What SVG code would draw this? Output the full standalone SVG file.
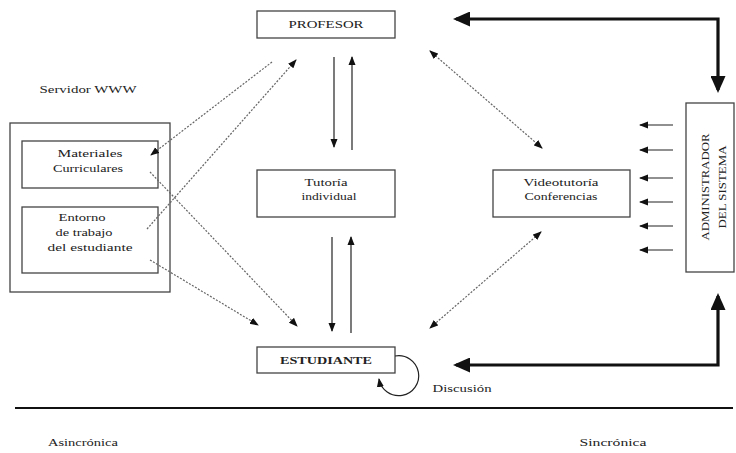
<svg xmlns="http://www.w3.org/2000/svg" width="736" height="453" viewBox="0 0 736 453">
<defs>
<style>
.box{fill:none;stroke:#444;stroke-width:1.3}
.t{font-family:"Liberation Serif","Times New Roman",serif;font-size:10px;fill:#222;text-anchor:middle}
.b{font-weight:bold}
.thin{fill:none;stroke:#222;stroke-width:1.2}
.dot{fill:none;stroke:#666;stroke-width:1.2;stroke-dasharray:2,1.5}
.thick{fill:none;stroke:#111;stroke-width:3.2}
</style>
<marker id="a" markerUnits="userSpaceOnUse" markerWidth="9" markerHeight="8" refX="8" refY="4" orient="auto-start-reverse"><path d="M0,0.5 L9,4 L0,7.5 z" fill="#111"/></marker>
<marker id="A" markerUnits="userSpaceOnUse" markerWidth="17" markerHeight="15" refX="14" refY="7.5" orient="auto-start-reverse"><path d="M0,0 L17,7.5 L0,15 z" fill="#111"/></marker>
</defs>
<rect width="736" height="453" fill="#fff"/>

<g id="servidor">
<rect class="box" x="10" y="123" width="160" height="169"/>
<text class="t" x="88" y="93" textLength="97" lengthAdjust="spacingAndGlyphs">Servidor WWW</text>
</g>
<g id="materiales">
<rect class="box" x="22" y="141" width="136" height="47"/>
<text class="t" x="90" y="157" textLength="65" lengthAdjust="spacingAndGlyphs">Materiales</text>
<text class="t" x="88" y="172" textLength="70" lengthAdjust="spacingAndGlyphs">Curriculares</text>
</g>
<g id="entorno">
<rect class="box" x="22" y="207" width="136" height="66"/>
<text class="t" x="82" y="221" textLength="47" lengthAdjust="spacingAndGlyphs">Entorno</text>
<text class="t" x="84" y="236" textLength="57" lengthAdjust="spacingAndGlyphs">de trabajo</text>
<text class="t" x="90" y="251" textLength="85" lengthAdjust="spacingAndGlyphs">del estudiante</text>
</g>
<g id="profesor">
<rect class="box" x="257" y="11" width="138" height="27"/>
<text class="t" x="326" y="28" textLength="75" lengthAdjust="spacingAndGlyphs">PROFESOR</text>
</g>
<g id="tutoria">
<rect class="box" x="257" y="170" width="138" height="47"/>
<text class="t" x="326" y="186" textLength="43" lengthAdjust="spacingAndGlyphs">Tutoría</text>
<text class="t" x="329" y="200" textLength="55" lengthAdjust="spacingAndGlyphs">individual</text>
</g>
<g id="videotutoria">
<rect class="box" x="493" y="170" width="137" height="47"/>
<text class="t" x="561" y="186" textLength="75" lengthAdjust="spacingAndGlyphs">Videotutoría</text>
<text class="t" x="561" y="200" textLength="73" lengthAdjust="spacingAndGlyphs">Conferencias</text>
</g>
<g id="estudiante">
<rect class="box" x="257" y="347" width="138" height="26"/>
<text class="t b" x="326" y="364" textLength="92" lengthAdjust="spacingAndGlyphs">ESTUDIANTE</text>
</g>
<g id="administrador">
<rect class="box" x="686" y="103" width="48" height="169"/>
<text class="t" transform="translate(709,187) rotate(-90)" textLength="107" lengthAdjust="spacingAndGlyphs">ADMINISTRADOR</text>
<text class="t" transform="translate(726,187) rotate(-90)" textLength="83" lengthAdjust="spacingAndGlyphs">DEL SISTEMA</text>
</g>

<g id="connectors">
<polyline class="thick" points="456,19 718,19 718,90" marker-start="url(#A)" marker-end="url(#A)"/>
<polyline class="thick" points="456,365 718,365 718,296" marker-start="url(#A)" marker-end="url(#A)"/>
<line class="dot" x1="272" y1="62" x2="151" y2="155" marker-end="url(#a)"/>
<line class="dot" x1="147" y1="229" x2="296" y2="60" marker-end="url(#a)"/>
<line class="dot" x1="150" y1="172" x2="297" y2="326" marker-end="url(#a)"/>
<line class="dot" x1="150" y1="260" x2="258" y2="325" marker-end="url(#a)"/>
<line class="dot" x1="430" y1="51" x2="542" y2="148" marker-start="url(#a)" marker-end="url(#a)"/>
<line class="dot" x1="541" y1="232" x2="430" y2="328" marker-start="url(#a)" marker-end="url(#a)"/>
<line class="thin" x1="334" y1="57" x2="334" y2="147" marker-end="url(#a)"/>
<line class="thin" x1="352" y1="150" x2="352" y2="57" marker-end="url(#a)"/>
<line class="thin" x1="332" y1="237" x2="332" y2="331" marker-end="url(#a)"/>
<line class="thin" x1="351" y1="333" x2="351" y2="237" marker-end="url(#a)"/>
<line class="thin" x1="673" y1="125" x2="640" y2="125" marker-end="url(#a)"/>
<line class="thin" x1="673" y1="150" x2="640" y2="150" marker-end="url(#a)"/>
<line class="thin" x1="673" y1="178" x2="640" y2="178" marker-end="url(#a)"/>
<line class="thin" x1="673" y1="202" x2="640" y2="202" marker-end="url(#a)"/>
<line class="thin" x1="673" y1="226" x2="640" y2="226" marker-end="url(#a)"/>
<line class="thin" x1="673" y1="250" x2="640" y2="250" marker-end="url(#a)"/>
<path class="thin" d="M395,356 A20,20 0 1 1 379,379" marker-end="url(#a)"/>
</g>

<g id="labels">
<text class="t" x="462" y="392" textLength="59" lengthAdjust="spacingAndGlyphs">Discusión</text>
<line x1="15" y1="408" x2="733" y2="408" stroke="#111" stroke-width="2"/>
<text class="t" x="83" y="446" textLength="70" lengthAdjust="spacingAndGlyphs">Asincrónica</text>
<text class="t" x="613" y="446" textLength="67" lengthAdjust="spacingAndGlyphs">Sincrónica</text>
</g>
</svg>
